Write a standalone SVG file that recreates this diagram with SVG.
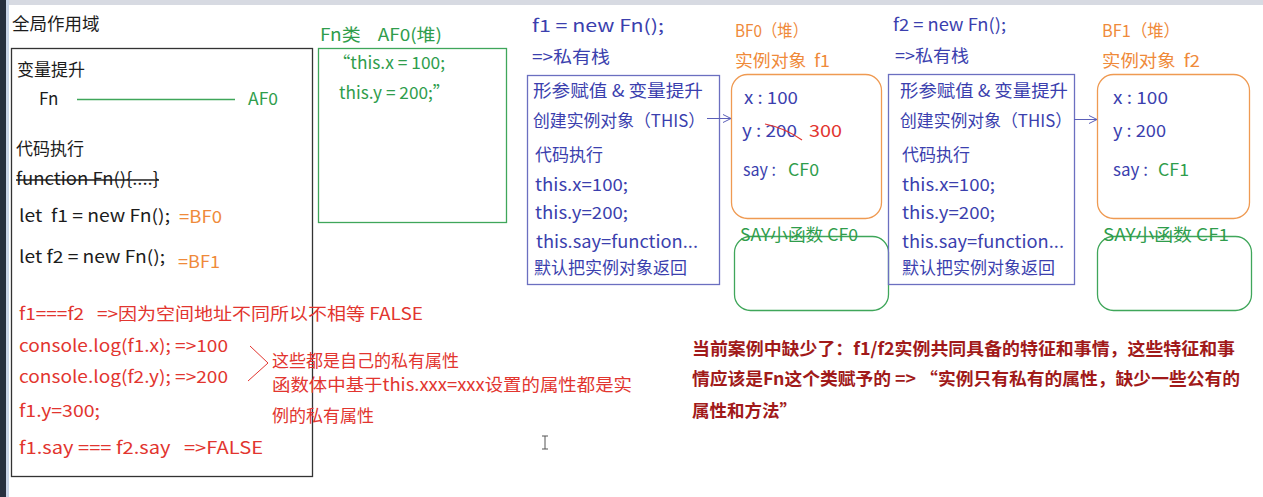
<svg xmlns="http://www.w3.org/2000/svg" width="1263" height="497" viewBox="0 0 1263 497" xml:space="preserve">
<style>
text{font-family:"Noto Sans CJK SC","Liberation Sans",sans-serif;font-size:17px;white-space:pre}
.k{fill:#1c1c1c}.g{fill:#2f9d4c}.o{fill:#ef8a3a}.b{fill:#3b3fae}.r{fill:#e2352f}.dr{fill:#a11a1a;font-weight:bold;font-size:17.5px}
.box{fill:none;stroke-width:1.3}
</style>
<defs>
<marker id="oa" markerWidth="10" markerHeight="10" refX="9" refY="5" orient="auto" markerUnits="userSpaceOnUse">
<path d="M1,1 L9,5 L1,9" fill="none" stroke="#5b5fb8" stroke-width="1"/>
</marker>
</defs>
<rect width="1263" height="497" fill="#ffffff"/>
<rect x="0" y="0" width="1263" height="5" fill="#d7dae2"/>
<rect x="0" y="0" width="6" height="497" fill="#27303f"/>
<rect x="6" y="0" width="3" height="497" fill="#c9d5e8"/>

<g id="global-scope">
<text class="k" x="12" y="30" style="font-size:17.5px">全局作用域</text>
<rect class="box" x="11.5" y="48.5" width="301" height="428" stroke="#333"/>
<text class="k" x="17" y="76">变量提升</text>
<text class="k" x="39" y="105">Fn</text>
<text class="g" x="248" y="105" textLength="30" lengthAdjust="spacingAndGlyphs">AF0</text>
<text class="k" x="16" y="155">代码执行</text>
<text class="k" x="16" y="185" textLength="143" lengthAdjust="spacingAndGlyphs">function Fn(){....}</text>
<line x1="16" y1="180" x2="159" y2="180" stroke="#1c1c1c" stroke-width="1.3"/>
<text class="k" x="19" y="222" textLength="151" lengthAdjust="spacingAndGlyphs">let  f1 = new Fn();</text>
<text class="o" x="179" y="223" textLength="43" lengthAdjust="spacingAndGlyphs">=BF0</text>
<text class="k" x="19" y="263" textLength="146" lengthAdjust="spacingAndGlyphs">let f2 = new Fn();</text>
<text class="o" x="178" y="268" textLength="42" lengthAdjust="spacingAndGlyphs">=BF1</text>
<text class="r" x="19" y="320" textLength="404" lengthAdjust="spacingAndGlyphs">f1===f2   =&gt;因为空间地址不同所以不相等 FALSE</text>
<text class="r" x="19" y="352" textLength="209" lengthAdjust="spacingAndGlyphs">console.log(f1.x); =&gt;100</text>
<text class="r" x="19" y="383" textLength="209" lengthAdjust="spacingAndGlyphs">console.log(f2.y); =&gt;200</text>
<text class="r" x="19" y="417" textLength="81" lengthAdjust="spacingAndGlyphs">f1.y=300;</text>
<text class="r" x="19" y="454" textLength="244" lengthAdjust="spacingAndGlyphs">f1.say === f2.say   =&gt;FALSE</text>
</g>

<g id="private-note">
<text class="r" x="272" y="367">这些都是自己的私有属性</text>
<text class="r" x="272" y="391" textLength="360" lengthAdjust="spacingAndGlyphs">函数体中基于this.xxx=xxx设置的属性都是实</text>
<text class="r" x="272" y="422">例的私有属性</text>
</g>

<g id="fn-class">
<text class="g" x="320" y="41" textLength="122" lengthAdjust="spacingAndGlyphs">Fn类    AF0(堆)</text>
<rect class="box" x="318.5" y="48.5" width="188" height="174" stroke="#3fa65a"/>
<text class="g" x="333" y="69" textLength="112" lengthAdjust="spacingAndGlyphs">“this.x = 100;</text>
<text class="g" x="339" y="99" textLength="111" lengthAdjust="spacingAndGlyphs">this.y = 200;”</text>
</g>

<g id="f1-stack">
<text class="b" x="532" y="32" textLength="132" lengthAdjust="spacingAndGlyphs">f1 = new Fn();</text>
<text class="b" x="532" y="63" textLength="78" lengthAdjust="spacingAndGlyphs">=&gt;私有栈</text>
<rect class="box" x="527.5" y="75.5" width="192" height="209" stroke="#6b6fc0"/>
<text class="b" x="533" y="97" textLength="170" lengthAdjust="spacingAndGlyphs">形参赋值 &amp; 变量提升</text>
<text class="b" x="533" y="127" textLength="172" lengthAdjust="spacingAndGlyphs">创建实例对象（THIS）</text>
<text class="b" x="535" y="161">代码执行</text>
<text class="b" x="535" y="191" textLength="93" lengthAdjust="spacingAndGlyphs">this.x=100;</text>
<text class="b" x="535" y="219" textLength="93" lengthAdjust="spacingAndGlyphs">this.y=200;</text>
<text class="b" x="536" y="248" textLength="162" lengthAdjust="spacingAndGlyphs">this.say=function...</text>
<text class="b" x="534" y="274">默认把实例对象返回</text>
</g>

<g id="bf0-heap">
<text class="o" x="735" y="37" textLength="73" lengthAdjust="spacingAndGlyphs">BF0（堆）</text>
<text class="o" x="735" y="67" textLength="95" lengthAdjust="spacingAndGlyphs">实例对象  f1</text>
<rect class="box" x="731.5" y="74.5" width="150" height="144" rx="16" stroke="#ef9a52"/>
<text class="b" x="744" y="104" textLength="54" lengthAdjust="spacingAndGlyphs">x : 100</text>
<text class="b" x="742" y="137" textLength="55" lengthAdjust="spacingAndGlyphs">y : 200</text>
<path d="M765,124 Q785,128 802,140" fill="none" stroke="#e2352f" stroke-width="1.2"/>
<text class="r" x="809" y="137" textLength="33" lengthAdjust="spacingAndGlyphs">300</text>
<text class="b" x="743" y="176" textLength="33" lengthAdjust="spacingAndGlyphs">say :</text>
<text class="g" x="788" y="176" textLength="31" lengthAdjust="spacingAndGlyphs">CF0</text>
</g>

<g id="cf0-say">
<rect class="box" x="734.5" y="236.5" width="154" height="74" rx="16" stroke="#3fa65a"/>
<text class="g" x="740" y="241" textLength="118" lengthAdjust="spacingAndGlyphs">SAY小函数 CF0</text>
</g>

<g id="f2-stack">
<text class="b" x="893" y="31" textLength="113" lengthAdjust="spacingAndGlyphs">f2 = new Fn();</text>
<text class="b" x="895" y="62" textLength="74" lengthAdjust="spacingAndGlyphs">=&gt;私有栈</text>
<rect class="box" x="888.5" y="74.5" width="186" height="210" stroke="#6b6fc0"/>
<text class="b" x="900" y="97" textLength="168" lengthAdjust="spacingAndGlyphs">形参赋值 &amp; 变量提升</text>
<text class="b" x="900" y="127" textLength="172" lengthAdjust="spacingAndGlyphs">创建实例对象（THIS）</text>
<text class="b" x="902" y="161">代码执行</text>
<text class="b" x="902" y="191" textLength="93" lengthAdjust="spacingAndGlyphs">this.x=100;</text>
<text class="b" x="902" y="219" textLength="93" lengthAdjust="spacingAndGlyphs">this.y=200;</text>
<text class="b" x="902" y="248" textLength="162" lengthAdjust="spacingAndGlyphs">this.say=function...</text>
<text class="b" x="902" y="274">默认把实例对象返回</text>
</g>

<g id="bf1-heap">
<text class="o" x="1102" y="37" textLength="78" lengthAdjust="spacingAndGlyphs">BF1（堆）</text>
<text class="o" x="1102" y="67" textLength="98" lengthAdjust="spacingAndGlyphs">实例对象  f2</text>
<rect class="box" x="1097.5" y="74.5" width="152" height="144" rx="16" stroke="#ef9a52"/>
<text class="b" x="1113" y="104" textLength="55" lengthAdjust="spacingAndGlyphs">x : 100</text>
<text class="b" x="1113" y="137" textLength="53" lengthAdjust="spacingAndGlyphs">y : 200</text>
<text class="b" x="1113" y="176" textLength="35" lengthAdjust="spacingAndGlyphs">say :</text>
<text class="g" x="1158" y="176" textLength="31" lengthAdjust="spacingAndGlyphs">CF1</text>
</g>

<g id="cf1-say">
<rect class="box" x="1097.5" y="236.5" width="154" height="74" rx="16" stroke="#3fa65a"/>
<text class="g" x="1103" y="241" textLength="126" lengthAdjust="spacingAndGlyphs">SAY小函数 CF1</text>
</g>

<g id="summary">
<text class="dr" x="692" y="355" textLength="543" lengthAdjust="spacingAndGlyphs">当前案例中缺少了：f1/f2实例共同具备的特征和事情，这些特征和事</text>
<text class="dr" x="692" y="385" textLength="548" lengthAdjust="spacingAndGlyphs">情应该是Fn这个类赋予的 =&gt; “实例只有私有的属性，缺少一些公有的</text>
<text class="dr" x="692" y="417">属性和方法”</text>
</g>

<g id="connectors">
<line x1="77" y1="99.5" x2="235" y2="99.5" stroke="#3fa65a" stroke-width="1.3"/>
<line x1="707" y1="118.5" x2="731" y2="118.5" stroke="#5b5fb8" stroke-width="1" marker-end="url(#oa)"/>
<line x1="1074" y1="119.5" x2="1097" y2="119.5" stroke="#5b5fb8" stroke-width="1" marker-end="url(#oa)"/>
<path d="M250,346 L268,363 L248,381" fill="none" stroke="#e2352f" stroke-width="1"/>
</g>

<g id="cursor">
<path d="M542,436 L548,436 M545,436 L545,449 M542,449 L548,449" stroke="#555" stroke-width="1" fill="none"/>
</g>
</svg>
